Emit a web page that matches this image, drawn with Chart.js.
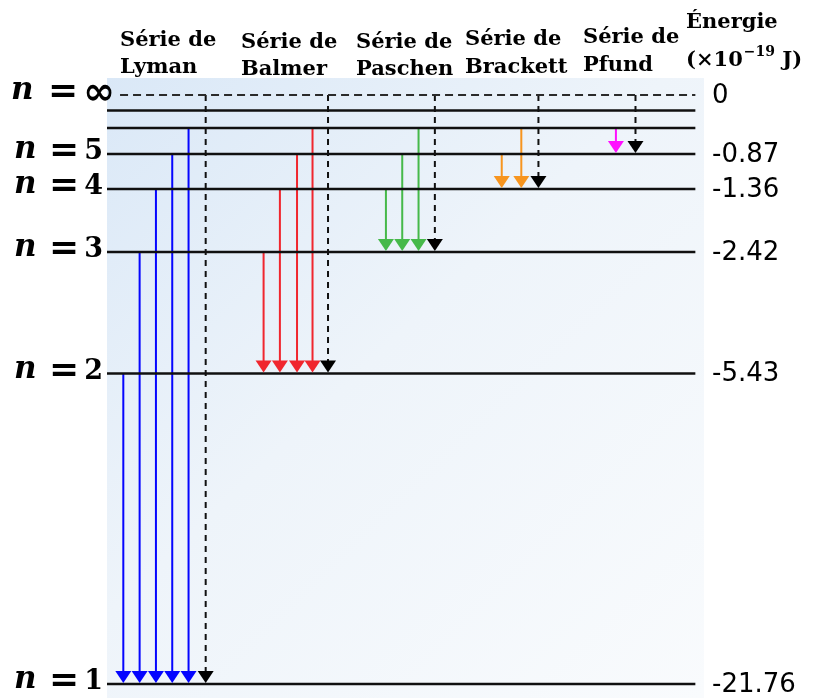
<!DOCTYPE html>
<html><head><meta charset="utf-8">
<script src="https://cdn.jsdelivr.net/npm/chart.js@4"></script>
<style>html,body{margin:0;padding:0;background:#fff}canvas{display:block}</style>
</head><body>
<canvas id="c" width="814" height="698"></canvas>
<script>
// ---- data ----
const levelNames   = ['1', '2', '3', '4', '5', '6', '7', '∞'];
const levelEnergy  = ['-21.76', '-5.43', '-2.42', '-1.36', '-0.87', '', '', '0'];
const levelHeight  = [-58.9, -27.85, -15.7, -9.4, -5.9, -3.3, -1.55, 0]; // schematic drawing height of each level
const labeledLevels = ['1', '2', '3', '4', '5', '∞'];

const seriesNames  = ['Lyman', 'Balmer', 'Paschen', 'Brackett', 'Pfund'];
const seriesLower  = ['1', '2', '3', '4', '5'];
const seriesUpper  = [
  ['2', '3', '4', '5', '6', '∞'],
  ['3', '4', '5', '6', '∞'],
  ['4', '5', '6', '∞'],
  ['5', '6', '∞'],
  ['6', '∞']
];
const transitionColumn = [
  [1, 2, 3, 4, 5, 6.05],
  [9.6, 10.6, 11.65, 12.6, 13.55],
  [17.1, 18.1, 19.1, 20.1],
  [24.2, 25.4, 26.45],
  [31.2, 32.4]
];
const energyTitle = ['Énergie', '(×10', '−19', ' J)'];

// ---- styles ----
const seriesColors = ['#0505ff', '#f0262e', '#46b94a', '#f7951f', '#ff10ff'];
const X_MAX = 36.6, LINE_END = 36.07, DASH_START = 0.8;

const H = n => levelHeight[levelNames.indexOf(n)];
const datasets = [];
levelNames.forEach((n, i) => {
  const inf = n === '∞';
  datasets.push({
    data: [{x: inf ? DASH_START : 0, y: levelHeight[i]}, {x: LINE_END, y: levelHeight[i]}],
    borderColor: inf ? '#2a2a2a' : '#101010', borderWidth: inf ? 2 : 2.4,
    borderDash: inf ? [8, 5] : [], showLine: true, pointRadius: 0
  });
});
seriesNames.forEach((s, si) => {
  seriesUpper[si].forEach((u, k) => {
    const inf = u === '∞';
    datasets.push({
      data: [{x: transitionColumn[si][k], y: H(u)}, {x: transitionColumn[si][k], y: H(seriesLower[si]) + 0.6}],
      borderColor: inf ? '#111' : seriesColors[si], borderWidth: 2,
      borderDash: inf ? [6, 5] : [], showLine: true, pointRadius: 0,
      arrow: true, arrowColor: inf ? '#000' : seriesColors[si], arrowTo: H(seriesLower[si])
    });
  });
});

const bgPlugin = {
  id: 'bg',
  beforeDraw(chart) {
    const {ctx, chartArea: a} = chart;
    const g = ctx.createLinearGradient(a.left, a.top, a.right, a.bottom);
    g.addColorStop(0, '#dae8f7');
    g.addColorStop(0.45, '#eef4fa');
    g.addColorStop(1, '#f9fbfd');
    ctx.save(); ctx.fillStyle = g; ctx.fillRect(a.left, a.top, a.right - a.left, a.bottom - a.top); ctx.restore();
  }
};

const arrowPlugin = {
  id: 'arrows',
  afterDatasetsDraw(chart) {
    const ctx = chart.ctx, ys = chart.scales.y;
    chart.data.datasets.forEach((ds, i) => {
      if (!ds.arrow) return;
      const p = chart.getDatasetMeta(i).data[1];
      const tip = ys.getPixelForValue(ds.arrowTo) - 1;
      ctx.save();
      ctx.fillStyle = ds.arrowColor;
      ctx.beginPath();
      ctx.moveTo(p.x, tip);
      ctx.lineTo(p.x - 8, tip - 12);
      ctx.lineTo(p.x + 8, tip - 12);
      ctx.closePath(); ctx.fill();
      ctx.restore();
    });
  }
};

const textPlugin = {
  id: 'texts',
  afterDraw(chart) {
    const ctx = chart.ctx, ys = chart.scales.y;
    ctx.save();
    ctx.fillStyle = '#000';
    // left level labels
    labeledLevels.forEach(n => {
      const y = ys.getPixelForValue(H(n)) - 2;
      const inf = n === '∞';
      ctx.textBaseline = 'middle';
      ctx.font = 'italic bold 31px "DejaVu Serif"';
      ctx.textAlign = 'left';
      ctx.fillText('n', inf ? 11 : 14, y - 2);
      ctx.font = 'bold 36px "DejaVu Sans"';
      ctx.textAlign = 'center';
      ctx.fillText('=', inf ? 63 : 64, y);
      ctx.textAlign = 'right';
      if (inf) { ctx.font = 'bold 38px "DejaVu Sans"'; ctx.fillText('∞', 115, y + 1); }
      else { ctx.font = 'bold 27px "DejaVu Serif"'; ctx.fillText(n, 103, y); }
    });
    // right energy labels
    ctx.font = '26px "DejaVu Sans"';
    ctx.textAlign = 'left';
    ctx.textBaseline = 'middle';
    labeledLevels.forEach(n => {
      const i = levelNames.indexOf(n);
      ctx.fillText(levelEnergy[i], 712, ys.getPixelForValue(levelHeight[i]) + 1);
    });
    // series headers
    const hdr = [[120, 46, 73], [241, 48, 75], [356, 48, 75], [465, 45, 73], [583, 43, 71]];
    ctx.font = 'bold 21px "DejaVu Serif"';
    ctx.textBaseline = 'alphabetic';
    seriesNames.forEach((s, si) => {
      ctx.fillText('Série de', hdr[si][0], hdr[si][1]);
      ctx.fillText(s, hdr[si][0], hdr[si][2]);
    });
    // energy title
    ctx.fillText(energyTitle[0], 686, 28);
    let x = 686;
    ctx.fillText(energyTitle[1], x, 66); x += ctx.measureText(energyTitle[1]).width;
    ctx.font = 'bold 14px "DejaVu Serif"';
    ctx.fillText(energyTitle[2], x + 1, 56); x += ctx.measureText(energyTitle[2]).width + 1;
    ctx.font = 'bold 21px "DejaVu Serif"';
    ctx.fillText(energyTitle[3], x, 66);
    ctx.restore();
  }
};

new Chart(document.getElementById('c'), {
  type: 'scatter',
  data: { datasets },
  options: {
    responsive: false, animation: false, devicePixelRatio: 1,
    layout: { padding: { left: 107, right: 110, top: 78, bottom: 0 } },
    plugins: { legend: { display: false }, tooltip: { enabled: false } },
    scales: {
      x: { type: 'linear', min: 0, max: X_MAX, display: false },
      y: { type: 'linear', min: -60.3, max: 1.7, display: false }
    },
    elements: { line: { tension: 0 } }
  },
  plugins: [bgPlugin, arrowPlugin, textPlugin]
});
</script>
</body></html>
